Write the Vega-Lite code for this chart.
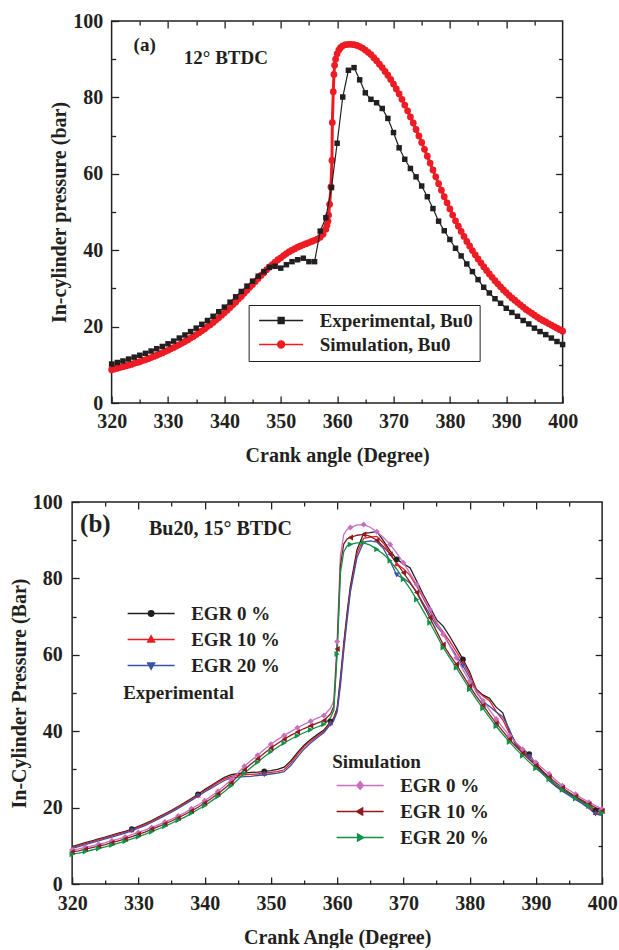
{
  "$schema": "https://vega.github.io/schema/vega-lite/v6.json",
  "padding": {"left": 8, "top": 10, "right": 0, "bottom": 0},
  "config": {
    "font": "Liberation Serif",
    "view": {"stroke": "#231f20", "strokeWidth": 1.5},
    "axis": {"labelFont": "Liberation Serif", "labelFontSize": 20, "labelFontWeight": "bold", "labelColor": "#231f20", "titleFont": "Liberation Serif", "titleFontSize": 20, "titleFontWeight": "bold", "titleColor": "#231f20", "grid": false, "domain": false, "tickColor": "#231f20", "tickWidth": 1.3, "labelFlush": false, "labelOverlap": false},
    "legend": {"labelFont": "Liberation Serif", "labelFontSize": 19, "labelFontWeight": "bold", "labelColor": "#231f20", "titleFont": "Liberation Serif", "titleFontSize": 19, "titleFontWeight": "bold", "titleColor": "#231f20", "labelLimit": 300}
  },
  "datasets": {
    "aexp": [
      {"x":320,"y":10.2},{"x":321,"y":10.6},{"x":322,"y":11.0},{"x":323,"y":11.5},{"x":324,"y":12.0},{"x":325,"y":12.5},{"x":326,"y":13.0},{"x":327,"y":13.6},{"x":328,"y":14.2},{"x":329,"y":14.8},
      {"x":330,"y":15.5},{"x":331,"y":16.2},{"x":332,"y":17.0},{"x":333,"y":17.8},{"x":334,"y":18.7},{"x":335,"y":19.6},{"x":336,"y":20.6},{"x":337,"y":21.6},{"x":338,"y":22.7},{"x":339,"y":23.9},
      {"x":340,"y":25.1},{"x":341,"y":26.4},{"x":342,"y":27.8},{"x":343,"y":29.2},{"x":344,"y":30.6},{"x":345,"y":31.9},{"x":346,"y":33.2},{"x":347,"y":34.4},{"x":348,"y":35.5},{"x":349,"y":35.8},
      {"x":350,"y":35.3},{"x":351,"y":36.2},{"x":352,"y":37.0},{"x":353,"y":37.5},{"x":354,"y":37.9},{"x":355,"y":37.0},{"x":356,"y":37.0},{"x":357,"y":45.0},{"x":358,"y":48.5},{"x":359,"y":56.4},
      {"x":360,"y":68.0},{"x":361,"y":80.1},{"x":362,"y":87.1},{"x":363,"y":87.8},{"x":364,"y":84.6},{"x":365,"y":81.2},{"x":366,"y":79.5},{"x":367,"y":78.6},{"x":368,"y":77.1},{"x":369,"y":74.5},
      {"x":370,"y":70.8},{"x":371,"y":66.8},{"x":372,"y":63.8},{"x":373,"y":61.4},{"x":374,"y":59.2},{"x":375,"y":56.8},{"x":376,"y":54.0},{"x":377,"y":50.9},{"x":378,"y":47.6},{"x":379,"y":45.1},
      {"x":380,"y":42.8},{"x":381,"y":40.5},{"x":382,"y":38.5},{"x":383,"y":36.4},{"x":384,"y":34.4},{"x":385,"y":32.3},{"x":386,"y":30.3},{"x":387,"y":28.8},{"x":388,"y":27.3},{"x":389,"y":26.1},
      {"x":390,"y":24.8},{"x":391,"y":23.7},{"x":392,"y":22.7},{"x":393,"y":21.6},{"x":394,"y":20.7},{"x":395,"y":19.6},{"x":396,"y":18.7},{"x":397,"y":17.9},{"x":398,"y":17.0},{"x":399,"y":16.1},{"x":400,"y":15.3}
    ],
    "asim": [
      {"x":320,"y":8.7},{"x":320.5,"y":8.9},{"x":321,"y":9.1},{"x":321.5,"y":9.3},{"x":322,"y":9.5},{"x":322.5,"y":9.7},{"x":323,"y":9.9},{"x":323.5,"y":10.1},{"x":324,"y":10.4},{"x":324.5,"y":10.6},
      {"x":325,"y":10.8},{"x":325.5,"y":11.1},{"x":326,"y":11.3},{"x":326.5,"y":11.6},{"x":327,"y":11.9},{"x":327.5,"y":12.2},{"x":328,"y":12.5},{"x":328.5,"y":12.8},{"x":329,"y":13.1},{"x":329.5,"y":13.5},
      {"x":330,"y":13.8},{"x":330.5,"y":14.2},{"x":331,"y":14.5},{"x":331.5,"y":14.9},{"x":332,"y":15.3},{"x":332.5,"y":15.7},{"x":333,"y":16.1},{"x":333.5,"y":16.5},{"x":334,"y":17.0},{"x":334.5,"y":17.4},
      {"x":335,"y":17.9},{"x":335.5,"y":18.4},{"x":336,"y":18.9},{"x":336.5,"y":19.4},{"x":337,"y":20.0},{"x":337.5,"y":20.5},{"x":338,"y":21.1},{"x":338.5,"y":21.7},{"x":339,"y":22.3},{"x":339.5,"y":23.0},
      {"x":340,"y":23.6},{"x":340.5,"y":24.3},{"x":341,"y":25.0},{"x":341.5,"y":25.7},{"x":342,"y":26.4},{"x":342.5,"y":27.2},{"x":343,"y":27.9},{"x":343.5,"y":28.7},{"x":344,"y":29.5},{"x":344.5,"y":30.3},
      {"x":345,"y":31.0},{"x":345.5,"y":31.8},{"x":346,"y":32.6},{"x":346.5,"y":33.4},{"x":347,"y":34.1},{"x":347.5,"y":34.9},{"x":348,"y":35.6},{"x":348.5,"y":36.2},{"x":349,"y":36.9},{"x":349.5,"y":37.5},
      {"x":350,"y":38.0},{"x":350.5,"y":38.6},{"x":351,"y":39.1},{"x":351.5,"y":39.6},{"x":352,"y":40.0},{"x":352.5,"y":40.4},{"x":353,"y":40.8},{"x":353.5,"y":41.1},{"x":354,"y":41.4},{"x":354.5,"y":41.7},
      {"x":355,"y":42.0},{"x":355.5,"y":42.3},{"x":356,"y":42.6},{"x":356.5,"y":42.9},{"x":357,"y":43.4},{"x":357.5,"y":44.2},{"x":358,"y":45.5},{"x":358.2,"y":46.5},{"x":358.37,"y":47.6},{"x":358.49,"y":49.2},
      {"x":358.67,"y":52.0},{"x":358.9,"y":56.6},{"x":359.08,"y":63.5},{"x":359.15,"y":73.4},{"x":359.32,"y":81.5},{"x":359.43,"y":86.0},{"x":359.55,"y":88.4},{"x":359.73,"y":90.0},{"x":360,"y":91.4},{"x":360.3,"y":92.4},
      {"x":360.6,"y":93.0},{"x":361,"y":93.5},{"x":361.5,"y":93.8},{"x":362,"y":93.9},{"x":362.5,"y":93.9},{"x":363,"y":93.8},{"x":363.5,"y":93.6},{"x":364,"y":93.3},{"x":364.5,"y":92.9},{"x":365,"y":92.4},
      {"x":365.5,"y":91.8},{"x":366,"y":91.2},{"x":366.5,"y":90.4},{"x":367,"y":89.6},{"x":367.5,"y":88.7},{"x":368,"y":87.8},{"x":368.5,"y":86.8},{"x":369,"y":85.8},{"x":369.5,"y":84.7},{"x":370,"y":83.5},
      {"x":370.5,"y":82.2},{"x":371,"y":80.9},{"x":371.5,"y":79.5},{"x":372,"y":78.0},{"x":372.5,"y":76.5},{"x":373,"y":74.9},{"x":373.5,"y":73.3},{"x":374,"y":71.6},{"x":374.5,"y":69.9},{"x":375,"y":68.2},
      {"x":375.5,"y":66.4},{"x":376,"y":64.6},{"x":376.5,"y":62.8},{"x":377,"y":61.0},{"x":377.5,"y":59.2},{"x":378,"y":57.4},{"x":378.5,"y":55.7},{"x":379,"y":54.0},{"x":379.5,"y":52.4},{"x":380,"y":50.8},
      {"x":380.5,"y":49.2},{"x":381,"y":47.7},{"x":381.5,"y":46.3},{"x":382,"y":44.9},{"x":382.5,"y":43.6},{"x":383,"y":42.3},{"x":383.5,"y":41.1},{"x":384,"y":39.9},{"x":384.5,"y":38.8},{"x":385,"y":37.7},
      {"x":385.5,"y":36.7},{"x":386,"y":35.7},{"x":386.5,"y":34.7},{"x":387,"y":33.8},{"x":387.5,"y":32.9},{"x":388,"y":32.0},{"x":388.5,"y":31.2},{"x":389,"y":30.4},{"x":389.5,"y":29.6},{"x":390,"y":28.9},
      {"x":390.5,"y":28.2},{"x":391,"y":27.5},{"x":391.5,"y":26.9},{"x":392,"y":26.3},{"x":392.5,"y":25.7},{"x":393,"y":25.1},{"x":393.5,"y":24.5},{"x":394,"y":24.0},{"x":394.5,"y":23.5},{"x":395,"y":23.0},
      {"x":395.5,"y":22.5},{"x":396,"y":22.0},{"x":396.5,"y":21.6},{"x":397,"y":21.2},{"x":397.5,"y":20.8},{"x":398,"y":20.4},{"x":398.5,"y":20.0},{"x":399,"y":19.6},{"x":399.5,"y":19.2},{"x":400,"y":18.8}
    ],
    "b": [
      {"x":320,"E0":9.8,"E10":9.6,"E20":9.3,"S0":8.9,"S10":8.4,"S20":7.8},
      {"x":321,"E0":10.3,"E10":10.1,"E20":9.8,"S0":9.2,"S10":8.7,"S20":8.1},
      {"x":322,"E0":10.8,"E10":10.6,"E20":10.3,"S0":9.6,"S10":9.1,"S20":8.5},
      {"x":323,"E0":11.3,"E10":11.1,"E20":10.8,"S0":10.0,"S10":9.5,"S20":8.9},
      {"x":324,"E0":11.8,"E10":11.6,"E20":11.3,"S0":10.4,"S10":9.9,"S20":9.3},
      {"x":325,"E0":12.3,"E10":12.1,"E20":11.8,"S0":10.8,"S10":10.3,"S20":9.7},
      {"x":326,"E0":12.8,"E10":12.6,"E20":12.3,"S0":11.3,"S10":10.8,"S20":10.2},
      {"x":327,"E0":13.3,"E10":13.1,"E20":12.8,"S0":11.8,"S10":11.3,"S20":10.7},
      {"x":328,"E0":13.8,"E10":13.6,"E20":13.3,"S0":12.3,"S10":11.8,"S20":11.2},
      {"x":329,"E0":14.4,"E10":14.2,"E20":13.9,"S0":12.9,"S10":12.4,"S20":11.8},
      {"x":330,"E0":15.1,"E10":14.9,"E20":14.6,"S0":13.5,"S10":13.0,"S20":12.4},
      {"x":331,"E0":15.8,"E10":15.6,"E20":15.3,"S0":14.1,"S10":13.6,"S20":13.0},
      {"x":332,"E0":16.6,"E10":16.4,"E20":16.1,"S0":14.8,"S10":14.3,"S20":13.7},
      {"x":333,"E0":17.5,"E10":17.3,"E20":17.0,"S0":15.5,"S10":15.0,"S20":14.4},
      {"x":334,"E0":18.4,"E10":18.2,"E20":17.9,"S0":16.2,"S10":15.7,"S20":15.1},
      {"x":335,"E0":19.3,"E10":19.1,"E20":18.8,"S0":17.0,"S10":16.5,"S20":15.9},
      {"x":336,"E0":20.3,"E10":20.1,"E20":19.8,"S0":17.8,"S10":17.3,"S20":16.7},
      {"x":337,"E0":21.3,"E10":21.1,"E20":20.8,"S0":18.7,"S10":18.2,"S20":17.5},
      {"x":338,"E0":22.4,"E10":22.2,"E20":21.9,"S0":19.7,"S10":19.1,"S20":18.5},
      {"x":339,"E0":23.5,"E10":23.3,"E20":23.0,"S0":20.7,"S10":20.1,"S20":19.5},
      {"x":340,"E0":24.7,"E10":24.4,"E20":24.1,"S0":21.8,"S10":21.2,"S20":20.5},
      {"x":341,"E0":25.8,"E10":25.5,"E20":25.1,"S0":23.0,"S10":22.4,"S20":21.7},
      {"x":342,"E0":26.9,"E10":26.6,"E20":26.1,"S0":24.3,"S10":23.6,"S20":22.9},
      {"x":343,"E0":27.9,"E10":27.5,"E20":27.1,"S0":25.7,"S10":25.0,"S20":24.2},
      {"x":344,"E0":28.6,"E10":28.2,"E20":27.8,"S0":27.3,"S10":26.5,"S20":25.7},
      {"x":345,"E0":28.9,"E10":28.5,"E20":28.0,"S0":29.0,"S10":28.2,"S20":27.3},
      {"x":346,"E0":29.0,"E10":28.6,"E20":28.1,"S0":30.8,"S10":29.9,"S20":29.0},
      {"x":347,"E0":29.2,"E10":28.7,"E20":28.2,"S0":32.3,"S10":31.4,"S20":30.5},
      {"x":348,"E0":29.3,"E10":28.8,"E20":28.4,"S0":33.7,"S10":32.8,"S20":31.9},
      {"x":349,"E0":29.5,"E10":29.0,"E20":28.6,"S0":35.2,"S10":34.2,"S20":33.3},
      {"x":350,"E0":29.7,"E10":29.2,"E20":28.8,"S0":36.6,"S10":35.6,"S20":34.6},
      {"x":351,"E0":30.0,"E10":29.4,"E20":29.0,"S0":37.8,"S10":36.8,"S20":35.8},
      {"x":352,"E0":30.6,"E10":29.9,"E20":29.4,"S0":38.9,"S10":37.9,"S20":36.9},
      {"x":353,"E0":32.2,"E10":31.6,"E20":31.0,"S0":39.9,"S10":38.9,"S20":37.9},
      {"x":354,"E0":34.4,"E10":33.9,"E20":33.2,"S0":40.9,"S10":39.8,"S20":38.8},
      {"x":355,"E0":36.3,"E10":35.9,"E20":35.3,"S0":41.8,"S10":40.7,"S20":39.6},
      {"x":356,"E0":37.8,"E10":37.4,"E20":36.9,"S0":42.6,"S10":41.4,"S20":40.4},
      {"x":357,"E0":39.1,"E10":38.7,"E20":38.3,"S0":43.4,"S10":42.1,"S20":41.1},
      {"x":358,"E0":40.3,"E10":39.9,"E20":39.6,"S0":44.1,"S10":42.8,"S20":41.8},
      {"x":359,"E0":42.5,"E10":42.2,"E20":41.8,"S0":46.0,"S10":44.5,"S20":43.5},
      {"x":359.5,"E0":43.5,"E10":43.2,"E20":42.8,"S0":48.0,"S10":46.5,"S20":45.5},
      {"x":360,"E0":46.0,"E10":45.5,"E20":45.0,"S0":63.5,"S10":61.5,"S20":60.2},
      {"x":360.5,"E0":54.0,"E10":53.0,"E20":52.0,"S0":86.0,"S10":83.5,"S20":81.5},
      {"x":361,"E0":63.0,"E10":62.0,"E20":61.0,"S0":91.5,"S10":89.0,"S20":87.0},
      {"x":361.5,"E0":71.0,"E10":70.0,"E20":69.0,"S0":92.8,"S10":90.3,"S20":88.5},
      {"x":362,"E0":78.0,"E10":77.0,"E20":76.5,"S0":93.3,"S10":90.7,"S20":88.9},
      {"x":363,"E0":87.5,"E10":86.5,"E20":85.5,"S0":94.0,"S10":91.3,"S20":89.3},
      {"x":364,"E0":91.8,"E10":90.5,"E20":89.5,"S0":94.1,"S10":91.5,"S20":89.3},
      {"x":365,"E0":92.0,"E10":90.8,"E20":89.8,"S0":93.4,"S10":91.0,"S20":88.7},
      {"x":366,"E0":92.3,"E10":91.0,"E20":89.5,"S0":92.2,"S10":90.0,"S20":87.6},
      {"x":367,"E0":89.8,"E10":89.2,"E20":87.8,"S0":90.7,"S10":88.3,"S20":86.3},
      {"x":368,"E0":87.2,"E10":86.5,"E20":84.5,"S0":88.9,"S10":86.3,"S20":84.6},
      {"x":369,"E0":85.0,"E10":83.8,"E20":80.9,"S0":86.6,"S10":84.0,"S20":82.4},
      {"x":370,"E0":83.8,"E10":82.5,"E20":80.0,"S0":84.1,"S10":81.5,"S20":79.8},
      {"x":371,"E0":82.8,"E10":80.8,"E20":78.8,"S0":81.3,"S10":79.0,"S20":77.3},
      {"x":372,"E0":79.3,"E10":78.0,"E20":76.5,"S0":78.4,"S10":76.3,"S20":74.5},
      {"x":373,"E0":75.8,"E10":74.8,"E20":73.5,"S0":75.2,"S10":73.0,"S20":71.5},
      {"x":374,"E0":72.5,"E10":71.5,"E20":70.5,"S0":71.9,"S10":69.7,"S20":68.4},
      {"x":375,"E0":69.2,"E10":68.3,"E20":67.5,"S0":68.7,"S10":66.2,"S20":65.2},
      {"x":376,"E0":67.5,"E10":66.0,"E20":65.5,"S0":65.4,"S10":62.7,"S20":61.9},
      {"x":377,"E0":64.8,"E10":63.5,"E20":62.5,"S0":62.3,"S10":60.0,"S20":59.2},
      {"x":378,"E0":61.8,"E10":60.8,"E20":59.8,"S0":59.2,"S10":57.5,"S20":56.6},
      {"x":379,"E0":58.8,"E10":58.0,"E20":57.1,"S0":56.1,"S10":54.6,"S20":53.8},
      {"x":380,"E0":55.5,"E10":54.8,"E20":54.0,"S0":53.1,"S10":51.8,"S20":51.0},
      {"x":381,"E0":51.0,"E10":50.8,"E20":50.3,"S0":50.5,"S10":49.2,"S20":48.4},
      {"x":382,"E0":49.5,"E10":49.2,"E20":47.8,"S0":48.0,"S10":46.8,"S20":46.0},
      {"x":383,"E0":48.6,"E10":48.0,"E20":46.5,"S0":45.6,"S10":44.4,"S20":43.6},
      {"x":384,"E0":46.3,"E10":45.2,"E20":45.0,"S0":43.2,"S10":42.1,"S20":41.3},
      {"x":385,"E0":44.8,"E10":43.0,"E20":43.8,"S0":41.0,"S10":40.0,"S20":39.2},
      {"x":386,"E0":40.0,"E10":39.5,"E20":40.5,"S0":38.8,"S10":37.9,"S20":37.2},
      {"x":387,"E0":36.8,"E10":36.5,"E20":36.2,"S0":37.0,"S10":36.0,"S20":35.3},
      {"x":388,"E0":35.3,"E10":34.8,"E20":34.5,"S0":35.3,"S10":34.3,"S20":33.6},
      {"x":389,"E0":34.0,"E10":33.6,"E20":33.3,"S0":33.5,"S10":32.6,"S20":31.9},
      {"x":390,"E0":31.4,"E10":31.0,"E20":30.8,"S0":31.8,"S10":31.0,"S20":30.3},
      {"x":391,"E0":29.6,"E10":29.2,"E20":29.0,"S0":30.3,"S10":29.5,"S20":28.8},
      {"x":392,"E0":27.6,"E10":27.2,"E20":27.0,"S0":28.8,"S10":28.0,"S20":27.4},
      {"x":393,"E0":26.0,"E10":25.7,"E20":25.5,"S0":27.2,"S10":26.6,"S20":26.0},
      {"x":394,"E0":24.8,"E10":24.5,"E20":24.3,"S0":25.7,"S10":25.2,"S20":24.7},
      {"x":395,"E0":23.7,"E10":23.4,"E20":23.2,"S0":24.6,"S10":24.0,"S20":23.5},
      {"x":396,"E0":22.7,"E10":22.4,"E20":22.1,"S0":23.5,"S10":22.9,"S20":22.4},
      {"x":397,"E0":21.6,"E10":21.3,"E20":21.0,"S0":22.4,"S10":21.9,"S20":21.4},
      {"x":398,"E0":20.6,"E10":20.2,"E20":19.8,"S0":21.4,"S10":20.9,"S20":20.4},
      {"x":399,"E0":19.2,"E10":18.7,"E20":18.3,"S0":20.5,"S10":20.0,"S20":19.5},
      {"x":400,"E0":18.6,"E10":18.3,"E20":18.0,"S0":19.6,"S10":19.1,"S20":18.6}
    ]
  },
  "center": true,
  "spacing": 25,
  "resolve": {"scale": {"x": "independent", "y": "independent", "color": "independent", "fill": "independent", "stroke": "independent", "shape": "independent"}},
  "vconcat": [
    {
      "width": 451,
      "height": 382,
      "resolve": {"axis": {"x": "independent", "y": "independent"}, "scale": {"fill": "independent", "stroke": "independent", "shape": "independent"}},
      "layer": [
        {
          "data": {"name": "asim"},
          "mark": {"type": "line", "color": "#ed1c24", "strokeWidth": 3, "point": {"shape": "circle", "filled": true, "size": 46, "color": "#ed1c24", "opacity": 1}},
          "encoding": {
            "x": {"field": "x", "type": "quantitative", "scale": {"domain": [320, 400], "nice": false, "zero": false},
              "axis": {"orient": "bottom", "values": [320, 330, 340, 350, 360, 370, 380, 390, 400], "tickSize": -7, "labelPadding": 15, "title": "Crank angle (Degree)", "titlePadding": 14}},
            "y": {"field": "y", "type": "quantitative", "scale": {"domain": [0, 100], "nice": false, "zero": false},
              "axis": {"orient": "left", "values": [0, 20, 40, 60, 80, 100], "tickSize": -7, "labelPadding": 16, "title": "In-cylinder pressure (bar)", "titlePadding": 3}}
          }
        },
        {
          "data": {"name": "aexp"},
          "mark": {"type": "line", "color": "#231f20", "strokeWidth": 1.2, "point": {"shape": "square", "filled": true, "size": 30, "color": "#231f20", "opacity": 1}},
          "encoding": {
            "x": {"field": "x", "type": "quantitative", "axis": null},
            "y": {"field": "y", "type": "quantitative", "axis": null}
          }
        },
        {
          "data": {"name": "aexp"},
          "transform": [{"filter": "datum.x < 0"}],
          "mark": {"type": "point", "filled": true, "strokeWidth": 1.3, "opacity": 1},
          "encoding": {
            "fill": {"field": "s", "type": "nominal", "scale": {"domain": ["Experimental, Bu0", "Simulation, Bu0"], "range": ["#231f20", "#ed1c24"]},
              "legend": {"orient": "none", "legendX": 137, "legendY": 284, "title": null, "symbolSize": 100, "symbolStrokeWidth": 1.3, "symbolOpacity": 1, "labelOffset": 46, "rowPadding": 4, "padding": 6, "strokeColor": "#231f20", "fillColor": "white"}},
            "stroke": {"field": "s", "type": "nominal", "scale": {"domain": ["Experimental, Bu0", "Simulation, Bu0"], "range": ["#231f20", "#ed1c24"]}},
            "shape": {"field": "s", "type": "nominal", "scale": {"domain": ["Experimental, Bu0", "Simulation, Bu0"], "range": ["M-1,0H7.8M2.8,-0.6H4.0V0.6H2.8Z", "M-1,0H7.8M4.1,0A0.7,0.7,0,1,1,2.7,0A0.7,0.7,0,1,1,4.1,0Z"]}}
          }
        },
        {
          "data": {"values": [{"x": 323.9, "y": 93.7, "t": "(a)"}, {"x": 332.8, "y": 90.3, "t": "12° BTDC"}]},
          "mark": {"type": "text", "align": "left", "baseline": "middle", "font": "Liberation Serif", "fontWeight": "bold", "fontSize": 19, "color": "#231f20"},
          "encoding": {
            "x": {"field": "x", "type": "quantitative", "axis": null},
            "y": {"field": "y", "type": "quantitative", "axis": null},
            "text": {"field": "t"}
          }
        },
        {
          "data": {"name": "aexp"},
          "transform": [{"filter": "datum.x < 0"}],
          "mark": "point",
          "encoding": {
            "x": {"field": "x", "type": "quantitative", "axis": {"orient": "bottom", "values": [325, 335, 345, 355, 365, 375, 385, 395], "tickSize": -4, "labels": false, "title": null}},
            "y": {"field": "y", "type": "quantitative", "axis": {"orient": "left", "values": [10, 30, 50, 70, 90], "tickSize": -4, "labels": false, "title": null}}
          }
        },
        {
          "data": {"name": "aexp"},
          "transform": [{"filter": "datum.x < 0"}],
          "mark": "point",
          "encoding": {
            "x": {"field": "x", "type": "quantitative", "axis": {"orient": "top", "values": [330, 340, 350, 360, 370, 380, 390], "tickSize": -7, "labels": false, "title": null}},
            "y": {"field": "y", "type": "quantitative", "axis": {"orient": "right", "values": [20, 40, 60, 80], "tickSize": -7, "labels": false, "title": null}}
          }
        },
        {
          "data": {"name": "aexp"},
          "transform": [{"filter": "datum.x < 0"}],
          "mark": "point",
          "encoding": {
            "x": {"field": "x", "type": "quantitative", "axis": {"orient": "top", "values": [325, 335, 345, 355, 365, 375, 385, 395], "tickSize": -4, "labels": false, "title": null}},
            "y": {"field": "y", "type": "quantitative", "axis": {"orient": "right", "values": [10, 30, 50, 70, 90], "tickSize": -4, "labels": false, "title": null}}
          }
        }
      ]
    },
    {
      "width": 530,
      "height": 382,
      "resolve": {"axis": {"x": "independent", "y": "independent"}, "scale": {"fill": "independent", "stroke": "independent", "shape": "independent"}},
      "layer": [
        {
          "data": {"name": "b"},
          "transform": [{"fold": ["E0", "E10", "E20", "S0", "S10", "S20"], "as": ["series", "y"]}],
          "mark": {"type": "line", "strokeWidth": 1.3},
          "encoding": {
            "x": {"field": "x", "type": "quantitative", "scale": {"domain": [320, 400], "nice": false, "zero": false},
              "axis": {"orient": "bottom", "values": [320, 330, 340, 350, 360, 370, 380, 390, 400], "tickSize": -7, "labelPadding": 16, "title": "Crank Angle (Degree)", "titlePadding": 14}},
            "y": {"field": "y", "type": "quantitative", "scale": {"domain": [0, 100], "nice": false, "zero": false},
              "axis": {"orient": "left", "values": [0, 20, 40, 60, 80, 100], "tickSize": -7, "labelPadding": 17, "title": "In-Cylinder Pressure (Bar)", "titlePadding": 3}},
            "color": {"field": "series", "type": "nominal", "legend": null,
              "scale": {"domain": ["E0", "E10", "E20", "S0", "S10", "S20"], "range": ["#231f20", "#ed1c24", "#3a53a4", "#c86fbf", "#8e1b1e", "#0f9147"]}}
          }
        },
        {
          "data": {"name": "b"},
          "transform": [{"fold": ["E0", "E10", "E20"], "as": ["series", "y"]}, {"filter": "datum.x % 10 == 9"}],
          "mark": {"type": "point", "filled": true, "size": 32, "opacity": 1},
          "encoding": {
            "x": {"field": "x", "type": "quantitative", "axis": null},
            "y": {"field": "y", "type": "quantitative", "axis": null},
            "color": {"field": "series", "type": "nominal", "legend": null},
            "shape": {"field": "series", "type": "nominal", "legend": null, "scale": {"domain": ["E0", "E10", "E20"], "range": ["circle", "triangle-up", "triangle-down"]}}
          }
        },
        {
          "data": {"name": "b"},
          "transform": [{"fold": ["S0", "S10", "S20"], "as": ["series", "y"]}, {"filter": "datum.x % 2 == 0"}],
          "mark": {"type": "point", "filled": true, "size": 36, "opacity": 1},
          "encoding": {
            "x": {"field": "x", "type": "quantitative", "axis": null},
            "y": {"field": "y", "type": "quantitative", "axis": null},
            "color": {"field": "series", "type": "nominal", "legend": null},
            "shape": {"field": "series", "type": "nominal", "legend": null, "scale": {"domain": ["S0", "S10", "S20"], "range": ["diamond", "triangle-left", "triangle-right"]}}
          }
        },
        {
          "data": {"name": "b"},
          "transform": [{"filter": "datum.x < 0"}],
          "mark": {"type": "point", "filled": true, "strokeWidth": 1.4, "opacity": 1},
          "encoding": {
            "fill": {"field": "s", "type": "nominal", "scale": {"domain": ["EGR 0 %", "EGR 10 %", "EGR 20 %"], "range": ["#231f20", "#ed1c24", "#3a53a4"]},
              "legend": {"orient": "none", "legendX": 51, "legendY": 102, "title": "Experimental", "titleOrient": "bottom", "titlePadding": 8, "symbolSize": 100, "symbolStrokeWidth": 1.4, "symbolOpacity": 1, "labelOffset": 49, "rowPadding": 6, "padding": 0}},
            "stroke": {"field": "s", "type": "nominal", "scale": {"domain": ["EGR 0 %", "EGR 10 %", "EGR 20 %"], "range": ["#231f20", "#ed1c24", "#3a53a4"]}},
            "shape": {"field": "s", "type": "nominal", "scale": {"domain": ["EGR 0 %", "EGR 10 %", "EGR 20 %"], "range": ["M-1,0H8.4M4.25,0A0.55,0.55,0,1,1,3.15,0A0.55,0.55,0,1,1,4.25,0Z", "M-1,0H8.4M3.7,-0.75L4.4,0.5L3.0,0.5Z", "M-1,0H8.4M3.7,0.75L4.4,-0.5L3.0,-0.5Z"]}}
          }
        },
        {
          "data": {"name": "b"},
          "transform": [{"filter": "datum.x < 0"}],
          "mark": {"type": "point", "filled": true, "strokeWidth": 1.4, "opacity": 1},
          "encoding": {
            "fill": {"field": "s", "type": "nominal", "scale": {"domain": ["EGR 0 %", "EGR 10 %", "EGR 20 %"], "range": ["#c86fbf", "#8e1b1e", "#0f9147"]},
              "legend": {"orient": "none", "legendX": 260, "legendY": 251, "title": "Simulation", "titlePadding": 4, "symbolSize": 100, "symbolStrokeWidth": 1.4, "symbolOpacity": 1, "labelOffset": 49, "rowPadding": 6, "padding": 0}},
            "stroke": {"field": "s", "type": "nominal", "scale": {"domain": ["EGR 0 %", "EGR 10 %", "EGR 20 %"], "range": ["#c86fbf", "#8e1b1e", "#0f9147"]}},
            "shape": {"field": "s", "type": "nominal", "scale": {"domain": ["EGR 0 %", "EGR 10 %", "EGR 20 %"], "range": ["M-1,0H8.4M3.7,-0.8L4.35,0L3.7,0.8L3.05,0Z", "M-1,0H8.4M2.95,0L4.2,-0.7L4.2,0.7Z", "M-1,0H8.4M4.45,0L3.2,-0.7L3.2,0.7Z"]}}
          }
        },
        {
          "data": {"values": [{"x": 321.2, "y": 94.2, "t": "(b)"}]},
          "mark": {"type": "text", "align": "left", "baseline": "middle", "font": "Liberation Serif", "fontWeight": "bold", "fontSize": 25, "color": "#231f20"},
          "encoding": {
            "x": {"field": "x", "type": "quantitative", "axis": null},
            "y": {"field": "y", "type": "quantitative", "axis": null},
            "text": {"field": "t"}
          }
        },
        {
          "data": {"values": [{"x": 331.6, "y": 92.9, "t": "Bu20, 15° BTDC"}]},
          "mark": {"type": "text", "align": "left", "baseline": "middle", "font": "Liberation Serif", "fontWeight": "bold", "fontSize": 20, "color": "#231f20"},
          "encoding": {
            "x": {"field": "x", "type": "quantitative", "axis": null},
            "y": {"field": "y", "type": "quantitative", "axis": null},
            "text": {"field": "t"}
          }
        },
        {
          "data": {"name": "b"},
          "transform": [{"filter": "datum.x < 0"}],
          "mark": "point",
          "encoding": {
            "x": {"field": "x", "type": "quantitative", "axis": {"orient": "bottom", "values": [325, 335, 345, 355, 365, 375, 385, 395], "tickSize": -4, "labels": false, "title": null}},
            "y": {"field": "x", "type": "quantitative", "axis": {"orient": "left", "values": [10, 30, 50, 70, 90], "tickSize": -4, "labels": false, "title": null}}
          }
        },
        {
          "data": {"name": "b"},
          "transform": [{"filter": "datum.x < 0"}],
          "mark": "point",
          "encoding": {
            "x": {"field": "x", "type": "quantitative", "axis": {"orient": "top", "values": [330, 340, 350, 360, 370, 380, 390], "tickSize": -7, "labels": false, "title": null}},
            "y": {"field": "x", "type": "quantitative", "axis": {"orient": "right", "values": [20, 40, 60, 80], "tickSize": -7, "labels": false, "title": null}}
          }
        },
        {
          "data": {"name": "b"},
          "transform": [{"filter": "datum.x < 0"}],
          "mark": "point",
          "encoding": {
            "x": {"field": "x", "type": "quantitative", "axis": {"orient": "top", "values": [325, 335, 345, 355, 365, 375, 385, 395], "tickSize": -4, "labels": false, "title": null}},
            "y": {"field": "x", "type": "quantitative", "axis": {"orient": "right", "values": [10, 30, 50, 70, 90], "tickSize": -4, "labels": false, "title": null}}
          }
        }
      ]
    }
  ]
}
